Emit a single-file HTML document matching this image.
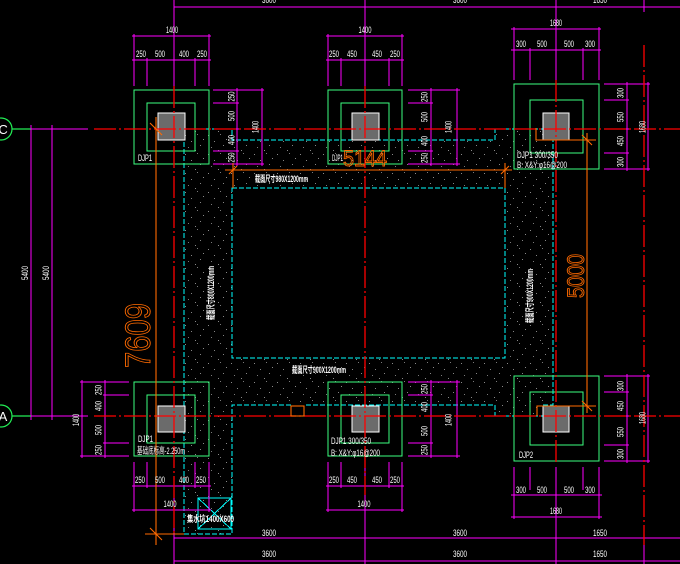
<!DOCTYPE html>
<html><head><meta charset="utf-8">
<style>
html,body{margin:0;padding:0;background:#000;}
svg{display:block;}
text{font-family:"Liberation Sans","Noto Sans CJK SC",sans-serif;}
.w{fill:#fff;font-size:9.5px;}
.wc{fill:#fff;font-size:9.5px;text-anchor:middle;}
.lb{fill:#fff;font-size:9px;font-weight:bold;}
.og{fill:none;stroke:#ff6a00;stroke-width:0.9;}
</style></head><body>
<svg width="680" height="564" viewBox="0 0 680 564" xmlns="http://www.w3.org/2000/svg">
<defs>
<pattern id="dots" width="23" height="19" patternUnits="userSpaceOnUse">
<rect x="1" y="2" width="1" height="1" fill="#8a8a8a"/>
<rect x="13" y="1" width="1" height="1" fill="#7a7a7a"/>
<rect x="7" y="8" width="1" height="1" fill="#858585"/>
<rect x="19" y="6" width="1" height="1" fill="#8a8a8a"/>
<rect x="4" y="14" width="1" height="1" fill="#7a7a7a"/>
<rect x="16" y="12" width="1" height="1" fill="#858585"/>
<rect x="11" y="17" width="1" height="1" fill="#8a8a8a"/>
</pattern>
</defs>
<rect width="680" height="564" fill="#000"/>

<!-- dotted ring foundation -->
<path d="M184 129H232V140H495V129H543V140H553V405H543V416H495V405H232V534H184Z M232 188V358H505V188Z" fill="url(#dots)" fill-rule="evenodd"/>

<!-- cyan dashed outlines -->
<g fill="none" stroke="#00ffff" stroke-width="1" stroke-dasharray="5 2" shape-rendering="crispEdges">
<path d="M184 129H232V140H495V129H543V140H553V405H543V416H495V405H304"/>
<path d="M291 405H232V534H184V129"/>
<rect x="232" y="188" width="273" height="170"/>
</g>
<g fill="none" stroke="#00ffff" stroke-width="1" shape-rendering="crispEdges">
<rect x="198" y="498" width="33" height="31"/>
<path d="M198 498L231 529M231 498L198 529"/>
</g>

<!-- footings -->
<g fill="none" stroke="#3cff80" stroke-width="1.3" shape-rendering="crispEdges">
<rect x="134" y="90" width="75" height="74"/><rect x="147" y="103" width="48" height="48"/>
<rect x="328" y="90" width="74" height="74"/><rect x="341" y="103" width="48" height="48"/>
<rect x="514" y="84" width="85" height="85"/><rect x="530" y="100" width="53" height="53"/>
<rect x="134" y="382" width="75" height="74"/><rect x="147" y="395" width="48" height="48"/>
<rect x="328" y="382" width="74" height="74"/><rect x="341" y="395" width="48" height="48"/>
<rect x="514" y="376" width="85" height="85"/><rect x="530" y="392" width="53" height="53"/>
</g>
<g fill="#6b6b6b" stroke="#fff" stroke-width="1" shape-rendering="crispEdges">
<rect x="158" y="113" width="27" height="27"/>
<rect x="352" y="113" width="27" height="27"/>
<rect x="543" y="113" width="26" height="27"/>
<rect x="158" y="406" width="27" height="26"/>
<rect x="352" y="406" width="27" height="26"/>
<rect x="543" y="406" width="26" height="26"/>
</g>

<!-- magenta dimension lines -->
<g fill="none" stroke="#ff00ff" stroke-width="1" shape-rendering="crispEdges">
<path d="M174 7H680M174 0V86M365 0V86M556 0V80M644 0V12"/>
<path d="M132 36H211M132 60H211M134 34V86M209 34V86M147 58V86M195 58V86"/>
<path d="M213 90H264M213 103H239M213 151H239M213 164H264M237 88V166M262 88V166"/>
<path d="M326 36H404M326 60H404M328 34V86M402 34V86M341 58V86M389 58V86"/>
<path d="M408 90H460M408 103H433M408 151H433M408 164H460M431 88V166M457 88V166"/>
<path d="M511 29H601M511 50H601M514 27V80M599 27V80M530 48V80M583 48V80"/>
<path d="M604 84H650M604 100H629M604 153H629M604 169H650M627 82V171M648 82V171"/>
<path d="M31 125V420M52 125V420M31 129H88M31 416H88"/>
<path d="M80 382H129M103 395H129M103 443H129M80 456H129M82 380V458M105 380V458"/>
<path d="M134 462V512M147 462V488M195 462V488M209 462V512M132 486H211M132 510H211"/>
<path d="M408 382H460M408 395H433M408 443H433M408 456H460M431 380V458M457 380V458"/>
<path d="M328 462V512M341 462V488M389 462V488M402 462V512M326 486H404M326 510H404M365 462V564"/>
<path d="M604 376H650M604 392H629M604 445H629M604 461H650M627 374V463M648 374V463"/>
<path d="M514 467V519M530 467V490M583 467V490M599 467V519M511 495H602M511 517H602M556 467V564"/>
<path d="M174 538H680M174 561H680M174 490V564M644 545V564"/>
<path d="M235 129H239M429 129H433M625 129H629M29 129H33M50 129H54M29 416H33M50 416H54M103 416H107M429 416H433M625 416H629M174 58V62M174 484V488M365 58V62M365 484V488M556 48V52M556 493V497"/>
</g>

<!-- red axis dash-dot lines -->
<g fill="none" stroke="#ff0000" stroke-width="1.3" stroke-dasharray="22 3 2 3">
<path d="M94 129H680M94 416H680"/>
<path d="M174 86V535M365 86V495M556 80V465M644 45V545"/>
</g>

<!-- axis bubbles -->
<g fill="none" stroke="#22ee55" stroke-width="1.2">
<circle cx="1" cy="129" r="11"/><circle cx="1" cy="416" r="11"/>
<path d="M12 129H31M12 416H31"/>
</g>
<text x="3" y="134" fill="#fff" font-size="13" text-anchor="middle">C</text>
<text x="3" y="421" fill="#fff" font-size="13" text-anchor="middle">A</text>

<!-- orange dimension lines -->
<g fill="none" stroke="#ff6a00" stroke-width="1.1">
<path d="M225 170H512M233 163V188M505 163V188M229 174L237 166M501 174L509 166"/>
<path d="M156 117V545M145 534H184M150 123L162 135M150 528L162 540"/>
<path d="M587 133V413M536 128V140H596M537 416V406H596M582 135L592 145M582 401L592 411"/>
<rect x="291" y="406" width="13" height="10"/>
</g>
<text class="og" x="365" y="166" font-size="22" text-anchor="middle" textLength="44" lengthAdjust="spacingAndGlyphs">5144</text>
<text class="og" transform="translate(150,335.5) rotate(-90)" font-size="35" text-anchor="middle" textLength="65" lengthAdjust="spacingAndGlyphs">7609</text>
<text class="og" transform="translate(584,276) rotate(-90)" font-size="24" text-anchor="middle" textLength="44" lengthAdjust="spacingAndGlyphs">5000</text>

<!-- horizontal dimension texts -->
<g class="wc">
<text x="269" y="3" textLength="14" lengthAdjust="spacingAndGlyphs">3600</text>
<text x="460" y="3" textLength="14" lengthAdjust="spacingAndGlyphs">3600</text>
<text x="600" y="3" textLength="14" lengthAdjust="spacingAndGlyphs">1650</text>

<text x="172" y="33" textLength="12" lengthAdjust="spacingAndGlyphs">1400</text>
<text x="141" y="57" textLength="10" lengthAdjust="spacingAndGlyphs">250</text>
<text x="160" y="57" textLength="10" lengthAdjust="spacingAndGlyphs">500</text>
<text x="184" y="57" textLength="10" lengthAdjust="spacingAndGlyphs">400</text>
<text x="202" y="57" textLength="10" lengthAdjust="spacingAndGlyphs">250</text>

<text x="365" y="33" textLength="13" lengthAdjust="spacingAndGlyphs">1400</text>
<text x="334" y="57" textLength="10" lengthAdjust="spacingAndGlyphs">250</text>
<text x="352" y="57" textLength="10" lengthAdjust="spacingAndGlyphs">450</text>
<text x="377" y="57" textLength="10" lengthAdjust="spacingAndGlyphs">450</text>
<text x="395" y="57" textLength="10" lengthAdjust="spacingAndGlyphs">250</text>

<text x="556" y="26" textLength="12" lengthAdjust="spacingAndGlyphs">1680</text>
<text x="521" y="47" textLength="10" lengthAdjust="spacingAndGlyphs">300</text>
<text x="542" y="47" textLength="10" lengthAdjust="spacingAndGlyphs">500</text>
<text x="569" y="47" textLength="10" lengthAdjust="spacingAndGlyphs">500</text>
<text x="590" y="47" textLength="10" lengthAdjust="spacingAndGlyphs">300</text>

<text x="140" y="483" textLength="10" lengthAdjust="spacingAndGlyphs">250</text>
<text x="160" y="483" textLength="10" lengthAdjust="spacingAndGlyphs">500</text>
<text x="184" y="483" textLength="10" lengthAdjust="spacingAndGlyphs">400</text>
<text x="201" y="483" textLength="10" lengthAdjust="spacingAndGlyphs">250</text>
<text x="170" y="507" textLength="13" lengthAdjust="spacingAndGlyphs">1400</text>

<text x="334" y="483" textLength="10" lengthAdjust="spacingAndGlyphs">250</text>
<text x="352" y="483" textLength="10" lengthAdjust="spacingAndGlyphs">450</text>
<text x="377" y="483" textLength="10" lengthAdjust="spacingAndGlyphs">450</text>
<text x="395" y="483" textLength="10" lengthAdjust="spacingAndGlyphs">250</text>
<text x="364" y="507" textLength="13" lengthAdjust="spacingAndGlyphs">1400</text>

<text x="521" y="493" textLength="10" lengthAdjust="spacingAndGlyphs">300</text>
<text x="542" y="493" textLength="10" lengthAdjust="spacingAndGlyphs">500</text>
<text x="569" y="493" textLength="10" lengthAdjust="spacingAndGlyphs">500</text>
<text x="590" y="493" textLength="10" lengthAdjust="spacingAndGlyphs">300</text>
<text x="556" y="514" textLength="12" lengthAdjust="spacingAndGlyphs">1680</text>

<text x="269" y="536" textLength="14" lengthAdjust="spacingAndGlyphs">3600</text>
<text x="460" y="536" textLength="14" lengthAdjust="spacingAndGlyphs">3600</text>
<text x="600" y="536" textLength="14" lengthAdjust="spacingAndGlyphs">1650</text>
<text x="269" y="557" textLength="14" lengthAdjust="spacingAndGlyphs">3600</text>
<text x="460" y="557" textLength="14" lengthAdjust="spacingAndGlyphs">3600</text>
<text x="600" y="557" textLength="14" lengthAdjust="spacingAndGlyphs">1650</text>
</g>

<!-- vertical (rotated) dimension texts -->
<g class="wc">
<text transform="translate(234.5,96.5) rotate(-90)" textLength="10" lengthAdjust="spacingAndGlyphs">250</text>
<text transform="translate(234.5,116) rotate(-90)" textLength="10" lengthAdjust="spacingAndGlyphs">500</text>
<text transform="translate(234.5,140) rotate(-90)" textLength="10" lengthAdjust="spacingAndGlyphs">400</text>
<text transform="translate(234.5,157.5) rotate(-90)" textLength="10" lengthAdjust="spacingAndGlyphs">250</text>
<text transform="translate(258.5,127) rotate(-90)" textLength="12" lengthAdjust="spacingAndGlyphs">1400</text>

<text transform="translate(427.5,97) rotate(-90)" textLength="10" lengthAdjust="spacingAndGlyphs">250</text>
<text transform="translate(427.5,117) rotate(-90)" textLength="10" lengthAdjust="spacingAndGlyphs">500</text>
<text transform="translate(427.5,141) rotate(-90)" textLength="10" lengthAdjust="spacingAndGlyphs">400</text>
<text transform="translate(427.5,158) rotate(-90)" textLength="10" lengthAdjust="spacingAndGlyphs">250</text>
<text transform="translate(451.5,127) rotate(-90)" textLength="12" lengthAdjust="spacingAndGlyphs">1400</text>

<text transform="translate(623.5,93) rotate(-90)" textLength="10" lengthAdjust="spacingAndGlyphs">300</text>
<text transform="translate(623.5,117) rotate(-90)" textLength="10" lengthAdjust="spacingAndGlyphs">550</text>
<text transform="translate(623.5,141) rotate(-90)" textLength="10" lengthAdjust="spacingAndGlyphs">450</text>
<text transform="translate(623.5,162) rotate(-90)" textLength="10" lengthAdjust="spacingAndGlyphs">300</text>
<text transform="translate(645.5,127) rotate(-90)" textLength="12" lengthAdjust="spacingAndGlyphs">1680</text>

<text transform="translate(28,273) rotate(-90)" textLength="14" lengthAdjust="spacingAndGlyphs">5400</text>
<text transform="translate(49,273) rotate(-90)" textLength="14" lengthAdjust="spacingAndGlyphs">5400</text>

<text transform="translate(101.5,390) rotate(-90)" textLength="10" lengthAdjust="spacingAndGlyphs">250</text>
<text transform="translate(101.5,406) rotate(-90)" textLength="10" lengthAdjust="spacingAndGlyphs">400</text>
<text transform="translate(101.5,430) rotate(-90)" textLength="10" lengthAdjust="spacingAndGlyphs">500</text>
<text transform="translate(101.5,450) rotate(-90)" textLength="10" lengthAdjust="spacingAndGlyphs">250</text>
<text transform="translate(79,420) rotate(-90)" textLength="12" lengthAdjust="spacingAndGlyphs">1400</text>

<text transform="translate(427.5,389) rotate(-90)" textLength="10" lengthAdjust="spacingAndGlyphs">250</text>
<text transform="translate(427.5,407) rotate(-90)" textLength="10" lengthAdjust="spacingAndGlyphs">400</text>
<text transform="translate(427.5,431) rotate(-90)" textLength="10" lengthAdjust="spacingAndGlyphs">500</text>
<text transform="translate(427.5,450) rotate(-90)" textLength="10" lengthAdjust="spacingAndGlyphs">250</text>
<text transform="translate(451.5,420) rotate(-90)" textLength="12" lengthAdjust="spacingAndGlyphs">1400</text>

<text transform="translate(623.5,386) rotate(-90)" textLength="10" lengthAdjust="spacingAndGlyphs">300</text>
<text transform="translate(623.5,406) rotate(-90)" textLength="10" lengthAdjust="spacingAndGlyphs">450</text>
<text transform="translate(623.5,432) rotate(-90)" textLength="10" lengthAdjust="spacingAndGlyphs">550</text>
<text transform="translate(623.5,454) rotate(-90)" textLength="10" lengthAdjust="spacingAndGlyphs">300</text>
<text transform="translate(645.5,418) rotate(-90)" textLength="12" lengthAdjust="spacingAndGlyphs">1680</text>
</g>

<!-- footing labels -->
<g class="w">
<text x="138" y="161" textLength="14" lengthAdjust="spacingAndGlyphs">DJP1</text>
<text x="332" y="161" textLength="11" lengthAdjust="spacingAndGlyphs">DJP1</text>
<text x="517" y="158" textLength="41" lengthAdjust="spacingAndGlyphs">DJP1 300/350</text>
<text x="517" y="168" textLength="50" lengthAdjust="spacingAndGlyphs">B: X&amp;Y:φ16@200</text>
<text x="138" y="442" textLength="15" lengthAdjust="spacingAndGlyphs">DJP1</text>
<text x="137" y="454" textLength="48" lengthAdjust="spacingAndGlyphs">基础底标高-2.250m</text>
<text x="331" y="444" textLength="40" lengthAdjust="spacingAndGlyphs">DJP1 300/350</text>
<text x="331" y="456" textLength="49" lengthAdjust="spacingAndGlyphs">B: X&amp;Y:φ16@200</text>
<text x="519" y="458" textLength="14" lengthAdjust="spacingAndGlyphs">DJP2</text>
</g>

<!-- beam labels -->
<g class="lb">
<text x="255" y="182" textLength="53" lengthAdjust="spacingAndGlyphs">截面尺寸980X1200mm</text>
<text x="292" y="373" textLength="54" lengthAdjust="spacingAndGlyphs">截面尺寸900X1200mm</text>
<text transform="translate(214,293) rotate(-90)" text-anchor="middle" textLength="54" lengthAdjust="spacingAndGlyphs">截面尺寸800X1200mm</text>
<text transform="translate(533,296) rotate(-90)" text-anchor="middle" textLength="54" lengthAdjust="spacingAndGlyphs">截面尺寸900X1200mm</text>
<text x="187" y="522" textLength="47" lengthAdjust="spacingAndGlyphs">集水坑1400X600</text>
</g>
</svg>
</body></html>
